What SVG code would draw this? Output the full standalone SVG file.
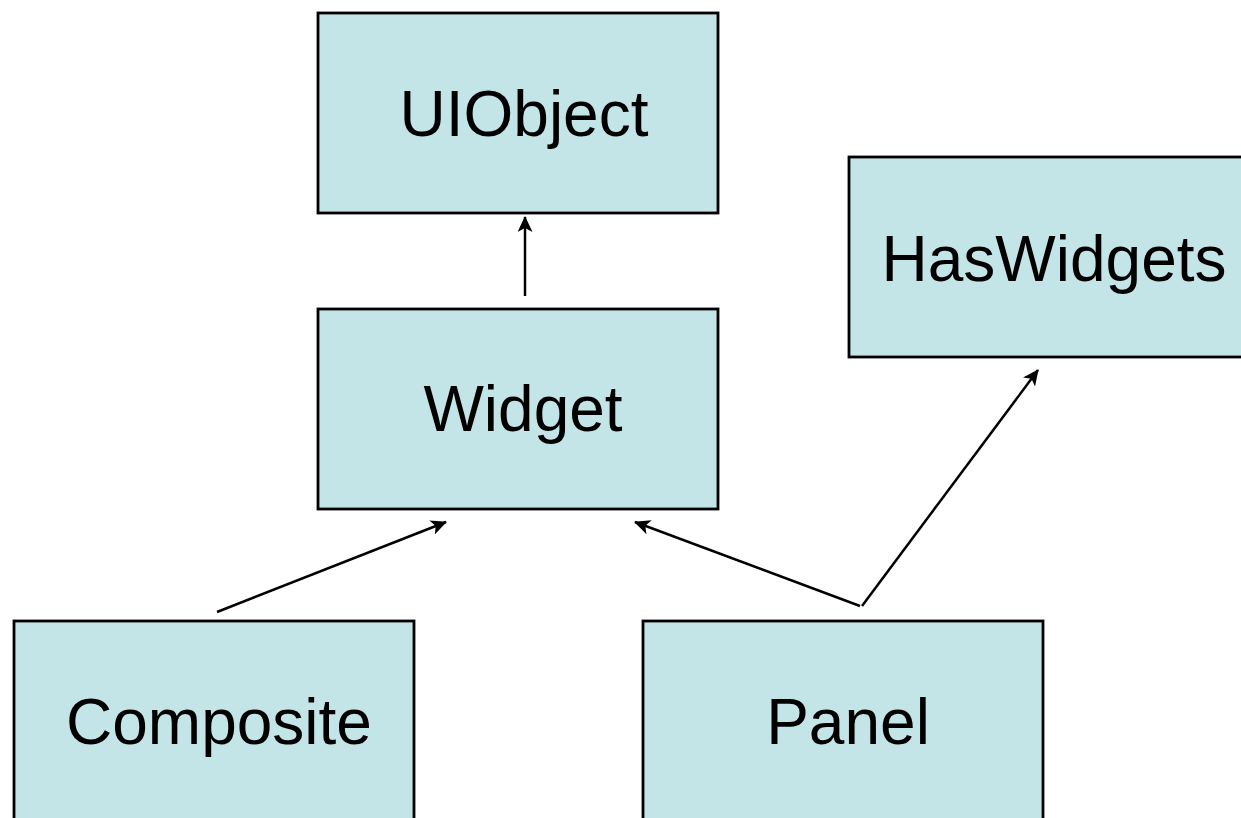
<svg xmlns="http://www.w3.org/2000/svg" width="1241" height="818" viewBox="0 0 1241 818">
<style>
.box{fill:#C4E5E8;stroke:#000;stroke-width:2.8}
.lbl{font-family:"Liberation Sans",Arial,sans-serif;font-size:64px;fill:#000;text-anchor:middle}
.conn{stroke:#000;stroke-width:2.5;fill:none;marker-end:url(#ah)}
</style>
<defs>
<marker id="ah" viewBox="0 0 16 15" refX="15" refY="7.5" markerWidth="16" markerHeight="15" markerUnits="userSpaceOnUse" orient="auto">
<path d="M0,0 L16,7.5 L0,15 L4,7.5 Z" fill="#000"/>
</marker>
</defs>
<rect width="1241" height="818" fill="#fff"/>
<g id="connectors">
<line class="conn" x1="525" y1="296" x2="525" y2="217"/>
<line class="conn" x1="217" y1="612" x2="446" y2="522"/>
<line class="conn" x1="860" y1="606" x2="635" y2="522"/>
<line class="conn" x1="862" y1="606" x2="1038" y2="370"/>
</g>
<g id="uiobject"><rect class="box" x="318" y="13" width="400" height="200"/><text class="lbl" x="524" y="136">UIObject</text></g>
<g id="haswidgets"><rect class="box" x="849" y="157" width="400" height="200"/><text class="lbl" x="1054" y="281">HasWidgets</text></g>
<g id="widget"><rect class="box" x="318" y="309" width="400" height="200"/><text class="lbl" x="523" y="431">Widget</text></g>
<g id="composite"><rect class="box" x="14" y="621" width="400" height="210"/><text class="lbl" x="219" y="744">Composite</text></g>
<g id="panel"><rect class="box" x="643" y="621" width="400" height="210"/><text class="lbl" x="848" y="744">Panel</text></g>
</svg>
